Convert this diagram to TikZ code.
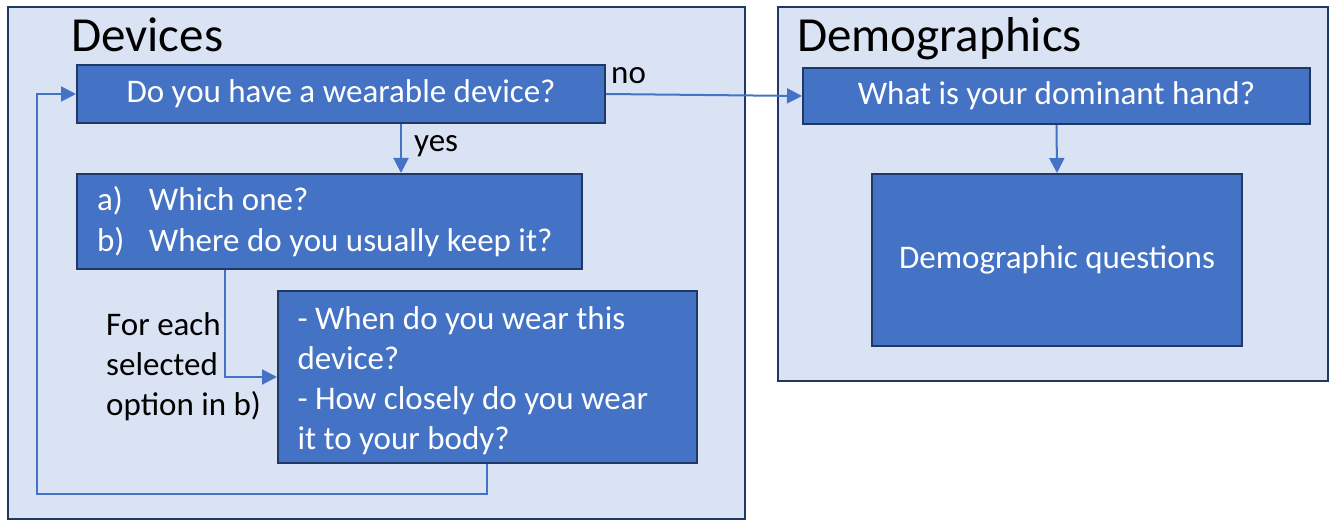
\documentclass[tikz,border=0pt]{standalone}
\usepackage{fontspec}
\setmainfont{Carlito}
\usetikzlibrary{arrows.meta,calc}
\definecolor{panelfill}{HTML}{DAE3F3}
\definecolor{navy}{HTML}{203864}
\definecolor{boxblue}{HTML}{4472C4}
\definecolor{arrowblue}{HTML}{4472C4}
\tikzset{
  panel/.style={draw=navy, fill=panelfill, line width=2pt},
  qbox/.style={draw=navy, fill=boxblue, line width=2pt, text=white, inner sep=0pt,
    font=\fontsize{33}{40}\selectfont, anchor=north west},
  flow/.style={draw=arrowblue, line width=2pt, -{Triangle[length=15pt,width=15pt]}},
  title/.style={font=\fontsize{49}{56}\selectfont, anchor=base west, inner sep=0pt},
  lbl/.style={font=\fontsize{33}{40}\selectfont, anchor=west, inner sep=0pt, align=left},
}
\begin{document}
\begin{tikzpicture}[x=1pt,y=-1pt]
\useasboundingbox (0,0) rectangle (1329,521);
% panels
\draw[panel] (8,7) rectangle (745,519);
\draw[panel] (778,7) rectangle (1328,381);
\node[title] (tdev) at (71,52) {Devices};
\node[title] (tdem) at (797,52) {Demographics};
% boxes
\node[qbox, minimum width=528, minimum height=58] (q1) at (76,64) {Do you have a wearable device?};
\node[qbox, minimum width=505, minimum height=95, text width=485, align=flush left] (ab) at (76,173)
  {\hspace*{10pt}\makebox[52pt][l]{a)}Which one?\\[1pt]\hspace*{10pt}\makebox[52pt][l]{b)}Where do you usually keep it?};
\node[qbox, minimum width=419, minimum height=172, text width=380, align=flush left] (wear) at (277,290)
  {\rule{0pt}{31pt}- When do you wear this\\device?\\- How closely do you wear\\it to your body?};
\node[qbox, minimum width=507, minimum height=56] (dom) at (802,67) {What is your dominant hand?};
\node[qbox, minimum width=370, minimum height=172] (dq) at (871,173) {Demographic questions};
% labels
\node[lbl] (no) at (611,76) {no};
\node[lbl] (yes) at (414,146) {yes};
\node[lbl] (each) at (106,367) {For each\\selected\\option in b)};
% coordinates
\coordinate (yesx) at (401,0);
\coordinate (forkx) at (225,0);
\coordinate (loopx) at (487,0);
\coordinate (loopc) at (37,494);
% connectors
\draw[flow] (q1.east) -- (dom.west);
\draw[flow] (q1.south -| yesx) -- (ab.north -| yesx);
\draw[flow] (dom.south) -- (dq.north);
\draw[flow] (ab.south -| forkx) |- (wear.west);
\draw[flow] (wear.south -| loopx) |- (loopc) |- (q1.west);
\end{tikzpicture}
\end{document}
